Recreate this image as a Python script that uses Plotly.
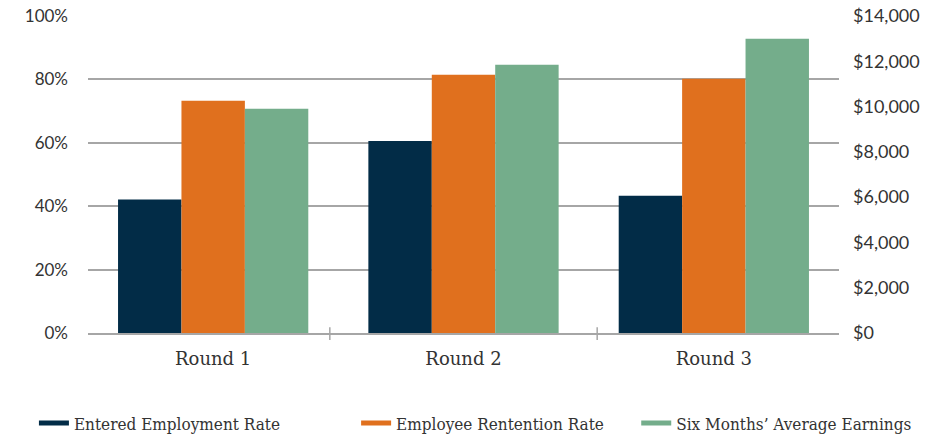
import plotly.graph_objects as go

# Programme outcomes by round
rounds = ["Round 1", "Round 2", "Round 3"]
entered_employment = [42.1, 60.6, 43.3]       # percent
employee_retention = [73.3, 81.5, 80.2]       # percent
avg_earnings = [9900, 11850, 13000]           # dollars, six-month average

series_names = ["Entered Employment Rate", "Employee Rentention Rate", "Six Months\u2019 Average Earnings"]
colors = ["#022c47", "#e0701e", "#74ad8b"]

W, H = 939, 435
L, R, T, B = 88, 100, 16, 101.5

left_font = dict(family="Lato, Open Sans, sans-serif", size=17, color="#333333")
right_font = dict(family="Lato, Open Sans, sans-serif", size=18, color="#333333")
slab_font = dict(family="DejaVu Serif, serif", size=18, color="#333333")
legend_font = dict(family="DejaVu Serif Condensed, DejaVu Serif, serif", size=17, color="#333333")

fig = go.Figure()

fig.add_trace(go.Bar(x=rounds, y=entered_employment, marker=dict(color=colors[0], line=dict(width=0)),
                     yaxis="y", offsetgroup="1", alignmentgroup="a", showlegend=False))
fig.add_trace(go.Bar(x=rounds, y=employee_retention, marker=dict(color=colors[1], line=dict(width=0)),
                     yaxis="y", offsetgroup="2", alignmentgroup="a", showlegend=False))
fig.add_trace(go.Bar(x=rounds, y=avg_earnings, marker=dict(color=colors[2], line=dict(width=0)),
                     yaxis="y2", offsetgroup="3", alignmentgroup="a", showlegend=False))

# Legend entries drawn as flat line swatches, one legend per series
legend_x = [-0.072, 0.357, 0.730]
legend_keys = ["legend", "legend2", "legend3"]
for name, col, key in zip(series_names, colors, legend_keys):
    fig.add_trace(go.Scatter(x=[None], y=[None], mode="lines", name=name,
                             line=dict(color=col, width=5), legend=key, showlegend=True))

legend_common = dict(orientation="h", yanchor="middle", y=-0.285, xanchor="left",
                     font=legend_font, bgcolor="rgba(0,0,0,0)", borderwidth=0)

layout_legends = {}
for key, lx in zip(legend_keys, legend_x):
    layout_legends[key] = dict(legend_common, x=lx)

# Category separator ticks on the baseline
shapes = []
for sx in [0.322, 0.678]:
    shapes.append(dict(type="line", xref="paper", yref="paper", x0=sx, x1=sx,
                       y0=-0.022, y1=0.018, line=dict(color="#a6a6a6", width=1.5)))

fig.update_layout(
    width=W, height=H,
    margin=dict(l=L, r=R, t=T, b=B, pad=0, autoexpand=False),
    paper_bgcolor="white", plot_bgcolor="white",
    barmode="group", bargap=0.24, bargroupgap=0,
    shapes=shapes,
    xaxis=dict(showgrid=False, showline=True, linecolor="#a6a6a6", linewidth=1.5,
               ticks="", tickfont=slab_font, ticklabelstandoff=9, zeroline=False),
    yaxis=dict(range=[0, 100], dtick=20, ticksuffix="%", showgrid=True,
               gridcolor="#a6a6a6", gridwidth=1.5, zeroline=False, showline=False,
               tickfont=left_font, ticklabelstandoff=19),
    yaxis2=dict(range=[0, 14000], dtick=2000, tickprefix="$", tickformat=",",
                overlaying="y", side="right", showgrid=False, zeroline=False,
                showline=False, tickfont=right_font, ticklabelstandoff=13),
    **layout_legends,
)

fig.write_html("out.html")
